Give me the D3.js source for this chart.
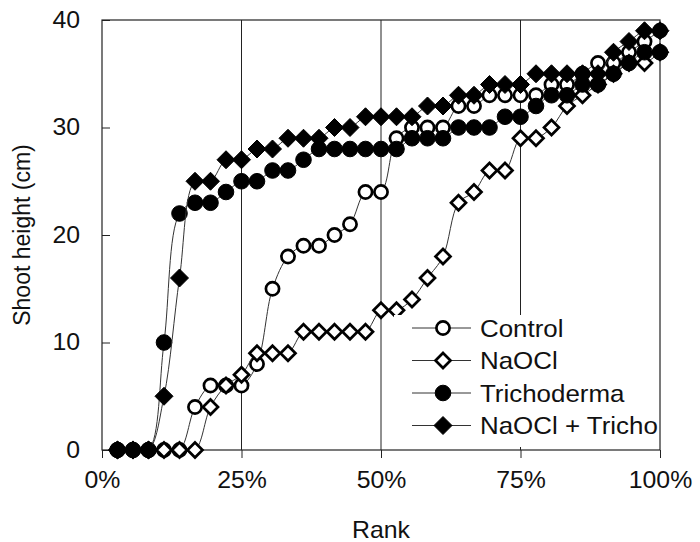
<!DOCTYPE html>
<html>
<head>
<meta charset="utf-8">
<script src="https://cdn.jsdelivr.net/npm/d3@7"></script>
<style>
  body { margin: 0; background: #fff; }
  text { font-family: "Liberation Sans", Arial, sans-serif; fill: #111; }
</style>
</head>
<body>
<div id="container"></div>
<script>
// shoot height (cm) of each plant, sorted, 36 plants per treatment
let control = [0, 0, 0, 0, 0, 4, 6, 6, 6, 8, 15, 18, 19, 19, 20, 21, 24, 24,
    29, 30, 30, 30, 32, 32, 33, 33, 33, 33, 34, 34, 35, 36, 36, 37, 38, 39],
  naocl = [0, 0, 0, 0, 0, 0, 4, 6, 7, 9, 9, 9, 11, 11, 11, 11, 11, 13,
    13, 14, 16, 18, 23, 24, 26, 26, 29, 29, 30, 32, 33, 34, 35, 36, 36, 37],
  tricho = [0, 0, 0, 10, 22, 23, 23, 24, 25, 25, 26, 26, 27, 28, 28, 28, 28, 28,
    28, 29, 29, 29, 30, 30, 30, 31, 31, 32, 33, 33, 34, 34, 35, 36, 37, 37],
  naoclTricho = [0, 0, 0, 5, 16, 25, 25, 27, 27, 28, 28, 29, 29, 29, 30, 30, 31, 31,
    31, 31, 32, 32, 33, 33, 34, 34, 34, 35, 35, 35, 35, 35, 37, 38, 39, 39]

let seriesNames = ['Control', 'NaOCl', 'Trichoderma', 'NaOCl + Tricho']
let yTicks = [0, 10, 20, 30, 40]
let xTicks = [0, 0.25, 0.5, 0.75, 1]

let width = 700,
  height = 542,
  plot = { left: 102, right: 660, top: 20, bottom: 450 },
  stretch = 1.08 // the scanned lettering is a bit wide

let svg = d3.select('#container')
  .append('svg')
  .attr('width', width)
  .attr('height', height)

let x = d3.scaleLinear().domain([0, 1]).range([plot.left, plot.right])
let y = d3.scaleLinear().domain([0, 40]).range([plot.bottom, plot.top])

// gridlines at 25/50/75 %
svg.append('g')
  .selectAll('line')
  .data(xTicks.slice(1, 4)).enter().append('line')
  .attr('x1', d => x(d)).attr('x2', d => x(d))
  .attr('y1', plot.top).attr('y2', plot.bottom)
  .attr('stroke', '#222').attr('stroke-width', 1)

// x axis, ticks pointing down
let xAxis = d3.axisBottom(x)
  .tickValues(xTicks)
  .tickFormat(d3.format('.0%'))
  .tickSize(8)
  .tickPadding(14)
let gx = svg.append('g')
  .attr('transform', 'translate(0,' + plot.bottom + ')')
  .call(xAxis)
gx.select('.domain').remove()
gx.selectAll('line').attr('stroke', '#222')
gx.selectAll('text').style('font-size', '23px').attr('fill', '#111')
  .style('font-family', '"Liberation Sans", Arial, sans-serif')
  .attr('transform', 'scale(' + stretch + ',1)')

// y axis, ticks pointing inside
let yAxis = d3.axisLeft(y)
  .tickValues(yTicks)
  .tickSize(-8)
  .tickPadding(22)
let gy = svg.append('g')
  .attr('transform', 'translate(' + plot.left + ',0)')
  .call(yAxis)
gy.select('.domain').remove()
gy.selectAll('line').attr('stroke', '#222')
gy.selectAll('text').style('font-size', '23px').attr('fill', '#111')
  .style('font-family', '"Liberation Sans", Arial, sans-serif')
  .attr('x', -22 / stretch)
  .attr('transform', 'scale(' + stretch + ',1)')

// frame
svg.append('rect')
  .attr('x', plot.left).attr('y', plot.top)
  .attr('width', plot.right - plot.left)
  .attr('height', plot.bottom - plot.top)
  .attr('fill', 'none').attr('stroke', '#222').attr('stroke-width', 1.2)

// series
let allSeries = [control, naocl, tricho, naoclTricho]
let n = control.length

let line = d3.line()
  .x((d, i) => x((i + 1) / n))
  .y(d => y(d))
  .curve(d3.curveCatmullRom.alpha(0.5))

let diamond = function (s) {
  return 'M0,' + -s + 'L' + s + ',0L0,' + s + 'L' + -s + ',0Z'
}

function drawMarker(g, k, filled) {
  let isDiamond = (k === 1 || k === 3)
  let m
  if (isDiamond) {
    m = g.append('path').attr('d', diamond(filled ? 9 : 7.5))
  } else {
    m = g.append('circle').attr('r', filled ? 7.8 : 6.6)
  }
  m.attr('fill', filled ? '#000' : '#fff')
    .attr('stroke', '#000')
    .attr('stroke-width', filled ? 1 : 2.7)
  return m
}

allSeries.forEach(function (vals, k) {
  let filled = k >= 2
  svg.append('path')
    .datum(vals)
    .attr('d', line)
    .attr('fill', 'none')
    .attr('stroke', '#333')
    .attr('stroke-width', 1)

  svg.append('g')
    .selectAll('g')
    .data(vals).enter().append('g')
    .attr('transform', (d, i) => 'translate(' + x((i + 1) / n) + ',' + y(d) + ')')
    .each(function () { drawMarker(d3.select(this), k, filled) })
})

// legend
let legend = svg.append('g')
legend.append('rect')
  .attr('x', 394).attr('y', 315)
  .attr('width', 264).attr('height', 132)
  .attr('fill', '#fff')

let item = legend.selectAll('g.item')
  .data(seriesNames).enter().append('g')
  .attr('class', 'item')
  .attr('transform', (d, i) => 'translate(0,' + (328 + i * 32.5) + ')')

item.append('line')
  .attr('x1', 412).attr('x2', 471)
  .attr('stroke', '#333').attr('stroke-width', 1)
item.append('g')
  .attr('transform', 'translate(443,0)')
  .each(function (d, k) { drawMarker(d3.select(this), k, k >= 2) })
item.append('text')
  .attr('transform', 'translate(480,0) scale(' + stretch + ',1)')
  .attr('dy', '0.36em')
  .style('font-size', '24px')
  .text(d => d)

// axis titles
svg.append('text')
  .attr('transform', 'translate(381,538) scale(' + stretch + ',1)')
  .attr('text-anchor', 'middle')
  .style('font-size', '23px')
  .text('Rank')

svg.append('text')
  .attr('transform', 'translate(30,235) rotate(-90)')
  .attr('text-anchor', 'middle')
  .style('font-size', '23px')
  .text('Shoot height (cm)')
</script>
</body>
</html>
